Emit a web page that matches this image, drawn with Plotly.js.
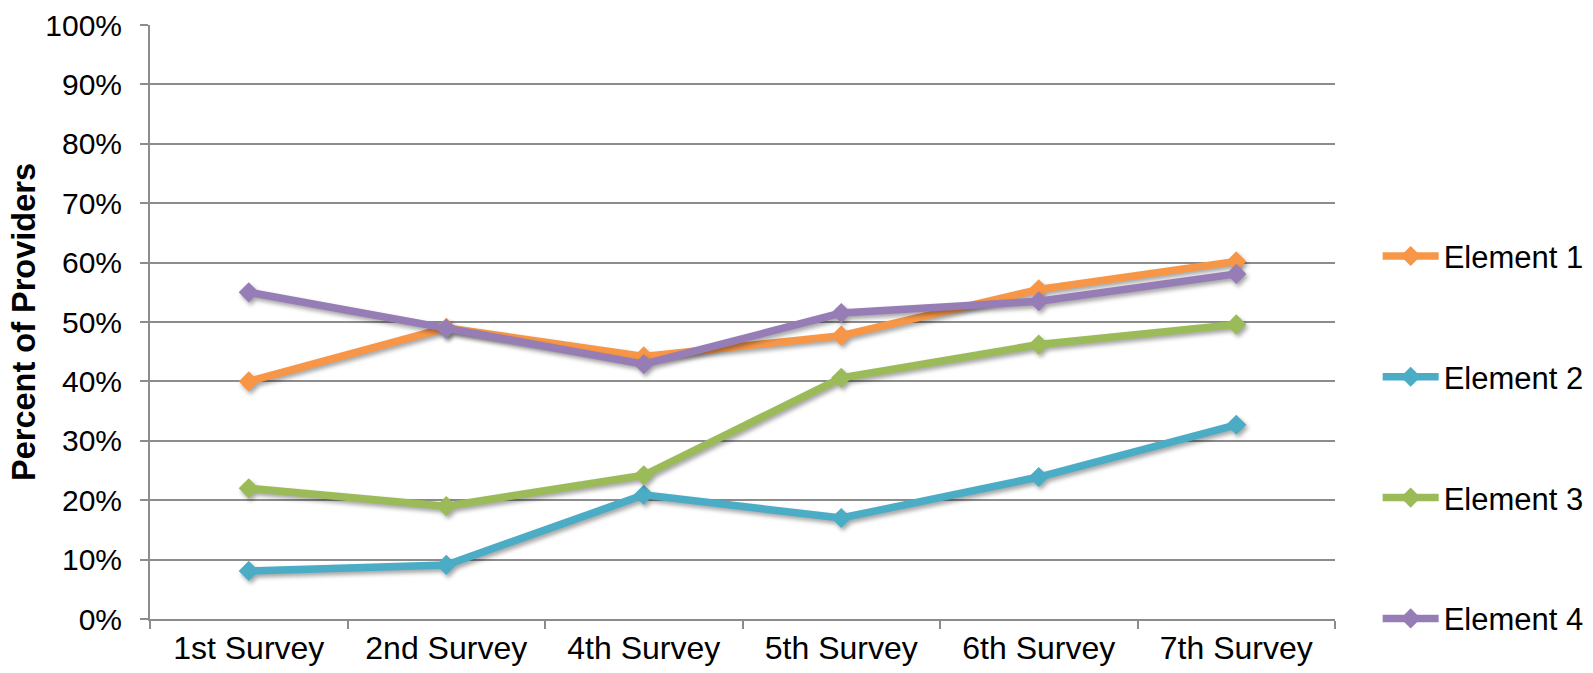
<!DOCTYPE html>
<html>
<head>
<meta charset="utf-8">
<script src="https://cdn.plot.ly/plotly-3.0.1.min.js"></script>
<style>
  html, body { margin: 0; padding: 0; background: #fff; }
  #chart { width: 1593px; height: 673px; }
  .scatterlayer .trace { filter: drop-shadow(2px 3px 2px rgba(0,0,0,0.35)); }
</style>
</head>
<body>
<div id="chart"></div>
<script>
const categories = ["1st Survey", "2nd Survey", "4th Survey", "5th Survey", "6th Survey", "7th Survey"];
const element1 = [40.0, 49.0, 44.2, 47.7, 55.5, 60.2];
const element2 = [8.1, 9.1, 20.9, 17.0, 23.9, 32.7];
const element3 = [22.0, 19.0, 24.2, 40.6, 46.2, 49.6];
const element4 = [55.0, 48.9, 42.9, 51.5, 53.5, 58.1];
const seriesNames = ["Element 1", "Element 2", "Element 3", "Element 4"];
const seriesColors = ["#F79646", "#4BACC6", "#9BBB59", "#977DB5"];
const yTickVals = [0, 10, 20, 30, 40, 50, 60, 70, 80, 90, 100];

const allSeries = [element1, element2, element3, element4];
const traces = allSeries.map((vals, i) => ({
  type: "scatter",
  mode: "lines+markers",
  x: categories,
  y: vals,
  name: seriesNames[i],
  legendgroup: "g" + i,
  line: { color: seriesColors[i], width: 7.5 },
  marker: { symbol: "diamond", size: 15.5, color: seriesColors[i], line: { width: 0 } }
}));

const font = "Liberation Sans, Arial, sans-serif";
const layout = {
  width: 1593,
  height: 673,
  margin: { l: 150, r: 258, t: 25, b: 54, autoexpand: false },
  paper_bgcolor: "#fff",
  plot_bgcolor: "#fff",
  font: { family: font, color: "#000", size: 30 },
  showlegend: true,
  legend: {
    x: 1.036, y: 0.656, xanchor: "left", yanchor: "top",
    font: { family: font, size: 31, color: "#000" },
    tracegroupgap: 77.5,
    traceorder: "grouped",
    itemwidth: 56,
    bgcolor: "rgba(0,0,0,0)"
  },
  xaxis: {
    type: "category",
    range: [-0.5, 5.5],
    showline: true, linecolor: "#8c8c8c", linewidth: 2,
    ticks: "outside", ticklen: 8, tickcolor: "#8c8c8c", tickwidth: 2,
    tickson: "boundaries",
    showgrid: false,
    tickfont: { family: font, size: 32, color: "#000" },
    fixedrange: true
  },
  yaxis: {
    range: [0, 100],
    tickvals: yTickVals,
    ticktext: yTickVals.map(v => v + "%"),
    showline: true, linecolor: "#8c8c8c", linewidth: 2,
    ticks: "outside", ticklen: 8, tickcolor: "#8c8c8c", tickwidth: 2,
    showgrid: true, gridcolor: "#8c8c8c", gridwidth: 2,
    zeroline: false,
    tickfont: { family: font, size: 30, color: "#000" },
    ticklabelstandoff: 12,
    title: { text: "<b>Percent of Providers</b>", font: { family: font, size: 32.5, color: "#000" }, standoff: 0 },
    fixedrange: true
  }
};

Plotly.newPlot("chart", traces, layout, { displayModeBar: false, staticPlot: true });
</script>
</body>
</html>
